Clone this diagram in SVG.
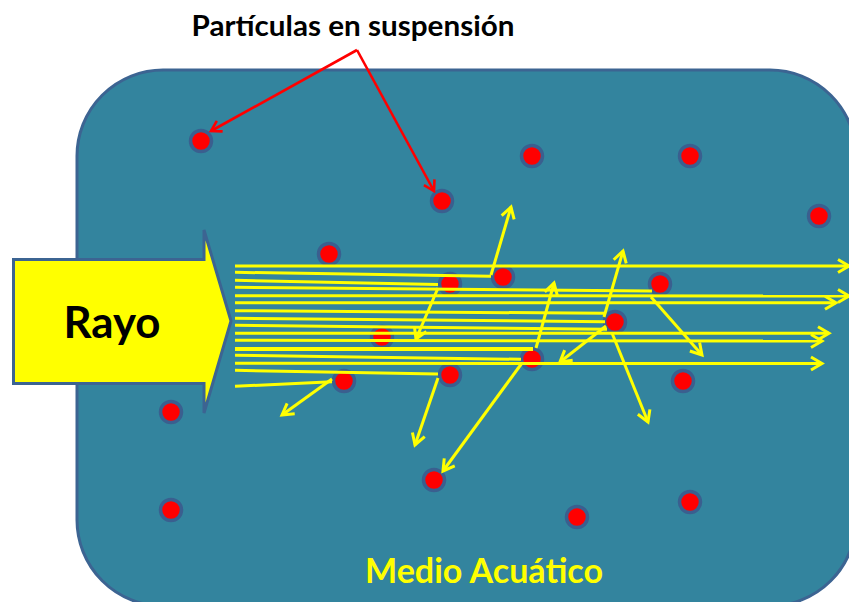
<svg xmlns="http://www.w3.org/2000/svg" width="849" height="602" viewBox="0 0 849 602">
<style>
.lbl{font-family:"Lato","Open Sans","Liberation Sans",sans-serif;font-weight:700}
.p{fill:#ff0000;stroke:#3a5f8f;stroke-width:3.5}
.ray{fill:none;stroke:#ffff00;stroke-width:3}
.arr{marker-end:url(#ya)}
.red{fill:none;stroke:#ff0000;stroke-width:2.6;marker-end:url(#ra)}
</style>
<defs>
<marker id="ya" markerUnits="userSpaceOnUse" markerWidth="18" markerHeight="18" refX="14" refY="9" orient="auto" overflow="visible"><path d="M3 2.5L14 9L3 15.5" fill="none" stroke="#ffff00" stroke-width="3"/></marker>
<marker id="ra" markerUnits="userSpaceOnUse" markerWidth="16" markerHeight="16" refX="13" refY="8" orient="auto" overflow="visible"><path d="M3 2L13 8L3 14" fill="none" stroke="#ff0000" stroke-width="2.6"/></marker>
</defs>
<rect width="849" height="602" fill="#ffffff"/>
<g id="medio"><rect x="77" y="70" width="779" height="536" rx="86" ry="86" fill="#33849e" stroke="#3c6492" stroke-width="3"/>
<text class="lbl" x="484" y="583" font-size="34" fill="#ffff00" text-anchor="middle" textLength="238" lengthAdjust="spacingAndGlyphs">Medio Acuático</text></g>
<g id="particulas">
<circle class="p" cx="201" cy="141" r="10.5"/><circle class="p" cx="532" cy="156" r="10.5"/><circle class="p" cx="690" cy="156" r="10.5"/><circle class="p" cx="442" cy="201" r="10.5"/><circle class="p" cx="819" cy="216" r="10.5"/><circle class="p" cx="329" cy="254" r="10.5"/><circle class="p" cx="503" cy="277" r="10.5"/><circle class="p" cx="450" cy="284" r="10.5"/><circle class="p" cx="660" cy="284" r="10.5"/><circle class="p" cx="615" cy="322" r="10.5"/><circle class="p" cx="382" cy="337" r="10.5"/><circle class="p" cx="532" cy="359" r="10.5"/><circle class="p" cx="344" cy="381" r="10.5"/><circle class="p" cx="450" cy="375" r="10.5"/><circle class="p" cx="683" cy="381" r="10.5"/><circle class="p" cx="171" cy="412" r="10.5"/><circle class="p" cx="434" cy="480" r="10.5"/><circle class="p" cx="171" cy="510" r="10.5"/><circle class="p" cx="577" cy="517" r="10.5"/><circle class="p" cx="690" cy="502" r="10.5"/>
</g>
<g id="rayo"><path d="M13.500 259.500H204V230L231 321L204 413V383.500H13.500Z" fill="#ffff00" stroke="#3c6492" stroke-width="3"/>
<text class="lbl" x="112" y="338" font-size="44" fill="#000000" text-anchor="middle" textLength="97" lengthAdjust="spacingAndGlyphs">Rayo</text></g>
<g id="conectores">
<path class="ray arr" d="M235 266H849"/>
<path class="ray" d="M235 272.300L491 276.300"/>
<path class="ray" d="M235 280.300L438 284.500"/>
<path class="ray" d="M235 287.300L652 291"/>
<path class="ray arr" d="M235 295.700L849 296"/>
<path class="ray arr" d="M235 302.700H836"/>
<path class="ray" d="M235 310.700L605 313.300"/>
<path class="ray" d="M235 318.300L605 321.700"/>
<path class="ray" d="M235 325.300L607 329.300"/>
<path class="ray arr" d="M235 333.300H829"/>
<path class="ray arr" d="M235 340.300L822 341"/>
<path class="ray" style="stroke-width:4" d="M235 349H533"/>
<path class="ray" d="M235 355.300L521 359.300"/>
<path class="ray arr" d="M235 363.300L822 363.500"/>
<path class="ray" d="M235 370.300L438 374"/>
<path class="ray" d="M235 386.300L332 381.700"/>
<path class="ray arr" d="M491 275L511 207"/>
<path class="ray arr" d="M438 288L416 339"/>
<path class="ray arr" d="M604 317L623 251"/>
<path class="ray arr" d="M651 297L702 355"/>
<path class="ray arr" d="M606 326L560 362"/>
<path class="ray arr" d="M612 333L648 422"/>
<path class="ray arr" d="M536 348L554 283"/>
<path class="ray arr" d="M438 378L415 445"/>
<path class="ray arr" d="M522 363L443 471"/>
<path class="ray arr" d="M332 379L282 415"/>
<path class="red" d="M357 50L211 131"/>
<path class="red" d="M357 50L434 191"/>
</g>
<text class="lbl" x="353" y="36" font-size="28" fill="#000000" text-anchor="middle" textLength="323" lengthAdjust="spacingAndGlyphs">Partículas en suspensión</text>
</svg>
